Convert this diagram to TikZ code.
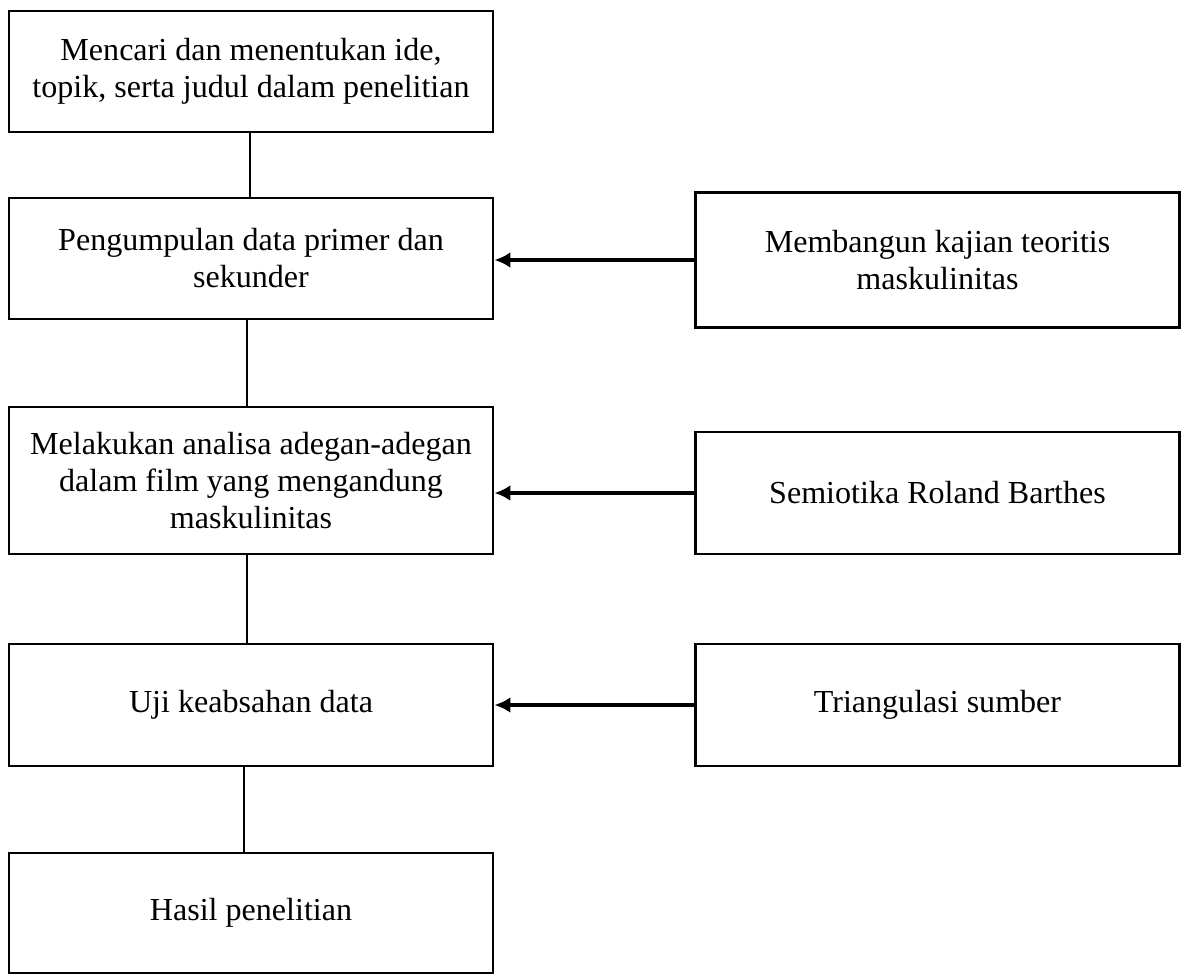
\documentclass[tikz,border=0pt]{standalone}
\usepackage{fontspec}
\setmainfont{Liberation Serif}
\usetikzlibrary{arrows.meta}

\tikzset{
    stagebox/.style={draw, line width=2pt, align=center, inner sep=0pt,
        minimum width=12.1cm, font=\fontsize{22.8}{26.3}\selectfont},
    link/.style={line width=1.3pt},
    feed/.style={line width=2.4pt, -{Latex[length=4mm,width=4mm]}}
}

\begin{document}
\begin{tikzpicture}[x=0.025cm, y=-0.025cm]
        \useasboundingbox (0,0) rectangle (1181,974);

        % left column
        \node[stagebox, minimum height=3.025cm] (b1) at (251,71.5) {Mencari dan menentukan ide,\\topik, serta judul dalam penelitian};
        \node[stagebox, minimum height=3.025cm] (b2) at (251,258.5) {Pengumpulan data primer dan\\sekunder};
        \node[stagebox, minimum height=3.675cm] (b3) at (251,480.5) {Melakukan analisa adegan-adegan\\dalam film yang mengandung\\maskulinitas};
        \node[stagebox, minimum height=3.05cm] (b4) at (251,705) {Uji keabsahan data};
        \node[stagebox, minimum height=3cm] (b5) at (251,913) {Hasil penelitian};

        % right column
        \node[stagebox, minimum height=3.375cm] (r1) at (937.5,260) {Membangun kajian teoritis\\maskulinitas};
        \node[stagebox, minimum height=3.05cm] (r2) at (937.5,493) {Semiotika Roland Barthes};
        \node[stagebox, minimum height=3.05cm] (r3) at (937.5,705) {Triangulasi sumber};

        \draw[link] ([xshift=-0.025cm]b1.south) -- ([xshift=-0.025cm]b2.north);
        \draw[link] ([xshift=-0.1cm]b2.south) -- ([xshift=-0.1cm]b3.north);
        \draw[link] ([xshift=-0.09cm]b3.south) -- ([xshift=-0.09cm]b4.north);
        \draw[link] ([xshift=-0.17cm]b4.south) -- ([xshift=-0.17cm]b5.north);

        \foreach \src/\dst in {r1/b2, r2/b3, r3/b4}
        {
            \draw[feed] (\src.west) -- (\src.west -| \dst.east);
        }
    \end{tikzpicture}
\end{document}
